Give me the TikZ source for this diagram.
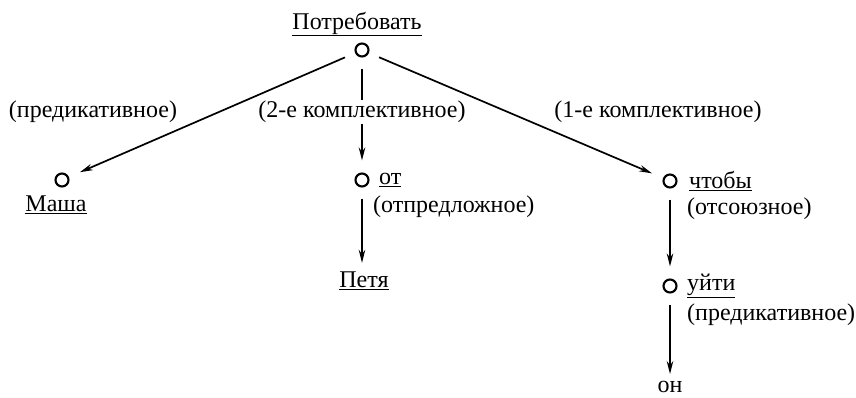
\documentclass[tikz,border=0pt]{standalone}
\usepackage{fontspec}
\setmainfont{Liberation Serif}
\usetikzlibrary{arrows.meta}
\tikzstyle{vertex} = [circle, draw=black, line width=2.1pt, minimum size=13pt, inner sep=0pt]
\tikzstyle{word} = [inner sep=1pt, font=\fontsize{24}{28}\selectfont]
\tikzstyle{rel} = [inner sep=1pt, font=\fontsize{24}{28}\selectfont]
\tikzstyle{arrow} = [line width=1.7pt, -{Stealth[length=13pt, width=6.5pt]}, shorten <=11pt, shorten >=12pt]

\begin{document}
\begin{tikzpicture}[x=1pt, y=-1pt]
    \useasboundingbox (0,0) rectangle (856,398);
    \node (potr_w) [word] at (357,24) {\underline{Потребовать}};
    \node (potr) [vertex] at (362,50) {};
    \node (masha) [vertex] at (62,180) {};
    \node (masha_w) [word] at (56,205) {\underline{Маша}};
    \node (ot) [vertex] at (362,180) {};
    \node (ot_w) [word, anchor=west] at (378,180) {\underline{от}};
    \node (petya) [word] at (364,281) {\underline{Петя}};
    \node (chtoby) [vertex] at (670,181) {};
    \node (chtoby_w) [word, anchor=west] at (688,181) {\underline{чтобы}};
    \node (ujti) [vertex] at (670,286) {};
    \node (ujti_w) [word, anchor=west] at (686,286) {\underline{уйти}};
    \node (on) [word] at (670,387) {он};

    \node (rel_pred) [rel] at (93,112) {(предикативное)};
    \node (rel_kompl1) [rel] at (658,112) {(1-е комплективное)};
    \node (rel_otpr) [rel, anchor=west] at (372,207) {(отпредложное)};
    \node (rel_otsz) [rel, anchor=west] at (686,209) {(отсоюзное)};
    \node (rel_pred2) [rel, anchor=west] at (686,315) {(предикативное)};

    \draw [arrow] (potr) -- (masha);
    \draw [arrow] (potr) -- node[rel, fill=white, yshift=3pt] {(2-е комплективное)} (ot);
    \draw [arrow] (potr) -- (chtoby);
    \draw [arrow, shorten >=8pt] (ot) -- (ot |- petya.north);
    \draw [arrow] (chtoby) -- (ujti);
    \draw [arrow, shorten >=6pt] (ujti) -- (on);
\end{tikzpicture}
\end{document}
